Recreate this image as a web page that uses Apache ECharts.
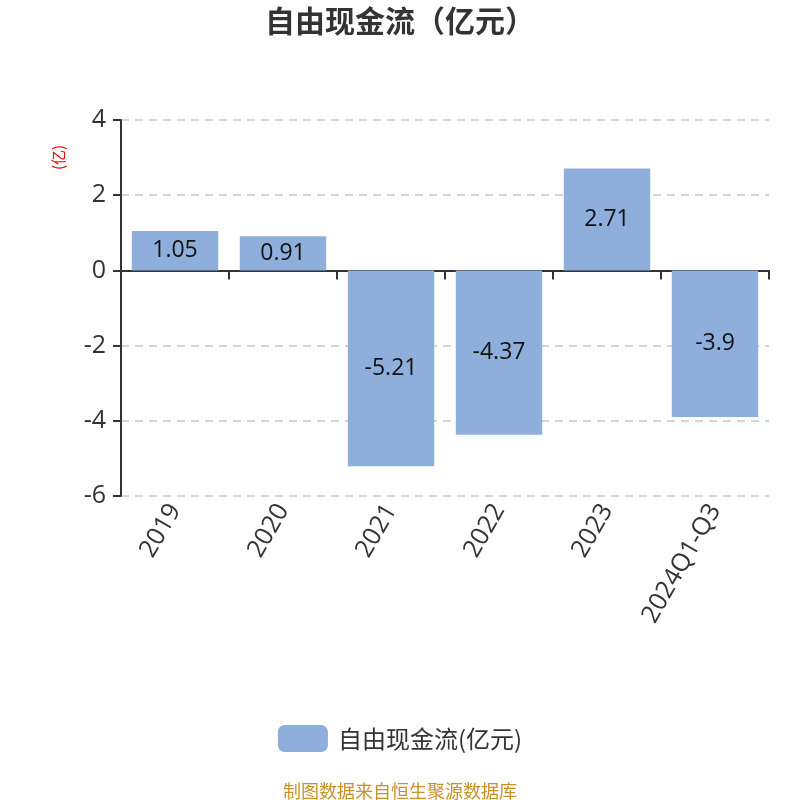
<!DOCTYPE html>
<html><head><meta charset="utf-8">
<script src="https://cdn.jsdelivr.net/npm/echarts@6/dist/echarts.min.js"></script>
<style>html,body{margin:0;padding:0;background:#fff}#c{width:800px;height:800px}</style>
</head><body><div id="c"></div>
<script>
const categories = ['2019','2020','2021','2022','2023','2024Q1-Q3'];
const values = [1.05, 0.91, -5.21, -4.37, 2.71, -3.9];
const seriesName = '自由现金流(亿元)';
const yTicks = {min: -6, max: 4, interval: 2};

const chart = echarts.init(document.getElementById('c'));
const font = '"Open Sans", "Noto Sans CJK SC", sans-serif';
const cjk = '"Noto Sans CJK SC", sans-serif';
chart.setOption({
  backgroundColor: '#fff',
  textStyle: {fontFamily: font},
  title: [{
    text: '自由现金流（亿元）', left: 'center', top: 1,
    textStyle: {fontSize: 30, fontWeight: 'bold', color: '#333', fontFamily: cjk}
  }, {
    text: '制图数据来自恒生聚源数据库', left: 'center', top: 777,
    textStyle: {fontSize: 18, fontWeight: 'normal', color: '#c8922a', fontFamily: cjk}
  }],
  graphic: [{
    type: 'text', x: 51, y: 170, rotation: Math.PI / 2,
    style: {text: '(亿)', fill: '#ff0000', font: '15px ' + cjk}
  }],
  legend: {
    data: [seriesName], top: 720, left: 'center',
    itemWidth: 50, itemHeight: 27, icon: 'roundRect',
    textStyle: {fontSize: 24, color: '#333', fontFamily: cjk, padding: [0, 0, 0, 5]}
  },
  grid: {left: 121, right: 31, top: 120, bottom: 304},
  xAxis: [{
    type: 'category', data: categories, position: 'bottom',
    axisLine: {show: false, onZero: false}, axisTick: {show: false},
    axisLabel: {rotate: 60, fontSize: 25, color: '#333', margin: 10, interval: 0, fontFamily: font}
  }, {
    type: 'category', data: categories, position: 'bottom',
    axisLine: {show: true, onZero: true, onZeroAxisIndex: 0, lineStyle: {color: '#333', width: 2}},
    axisTick: {show: true, length: 9, lineStyle: {color: '#333', width: 2}},
    axisLabel: {show: false}
  }],
  yAxis: {
    type: 'value', min: yTicks.min, max: yTicks.max, interval: yTicks.interval,
    axisLine: {show: true, lineStyle: {color: '#333', width: 2}},
    axisTick: {show: true, length: 8, lineStyle: {color: '#333', width: 2}},
    axisLabel: {fontSize: 25, color: '#333', margin: 15, fontFamily: font},
    splitLine: {lineStyle: {type: [8, 6], color: '#c8c8c8', width: 1.5}}
  },
  series: [{
    name: seriesName, type: 'bar', data: values, barWidth: '80%',
    itemStyle: {color: '#8eaedb'},
    label: {show: true, position: 'inside', fontSize: 23, color: '#111', fontFamily: font}
  }]
});
</script></body></html>
